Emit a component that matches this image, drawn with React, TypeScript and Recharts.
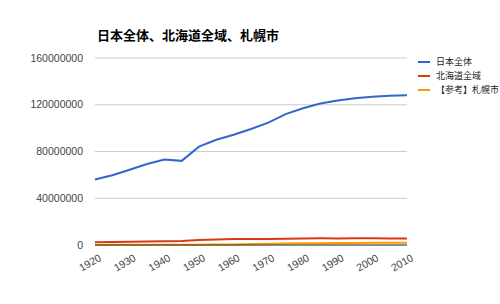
import { ReactElement } from 'react'
import { LineChart, Line, XAxis, YAxis, CartesianGrid } from 'recharts'

const years = ['1920', '1925', '1930', '1935', '1940', '1945', '1950', '1955', '1960', '1965', '1970', '1975', '1980', '1985', '1990', '1995', '2000', '2005', '2010']
const japan = [55963053, 59736822, 64450005, 69254148, 73114308, 71998104, 84114574, 90076594, 94301623, 99209137, 104665171, 111939643, 117060396, 121048923, 123611167, 125570246, 126925843, 127767994, 128057352]
const hokkaido = [2359183, 2498679, 2812335, 3068282, 3272718, 3518389, 4295567, 4773087, 5039206, 5171800, 5184287, 5338206, 5575989, 5679439, 5643647, 5692321, 5683062, 5627737, 5506419]
const sapporo = [102580, 145065, 168576, 196541, 206103, 220189, 313850, 426620, 523839, 794908, 1010123, 1240613, 1401757, 1542979, 1671742, 1757025, 1822368, 1880863, 1913545]
const yTicks = [0, 40000000, 80000000, 120000000, 160000000]

const seriesNames = ['日本全体', '北海道全域', '【参考】札幌市']
const seriesColors = ['#3366cc', '#dc3912', '#ff9900']

const data = years.map((y, i) => ({ year: y, japan: japan[i], hokkaido: hokkaido[i], sapporo: sapporo[i] }))

const font = 'Arial, "Liberation Sans", "Noto Sans CJK JP", sans-serif'
const colorLabelAxis = '#444'

const XTick = ({ x, y, payload }: any): ReactElement => (
   <text
      x={ x + 7 }
      y={ y + 13 }
      transform={ `rotate(-30, ${ x + 7 }, ${ y + 13 })` }
      textAnchor='end'
      fontSize={ 10.5 }
      fill={ colorLabelAxis }
      fontFamily={ font }
   >
      { payload.value }
   </text>
)

export default function App(): ReactElement {
   return (
      <div style={{ position: 'absolute', left: 0, top: 0, width: 500, height: 304, background: '#fff', fontFamily: font }}>
         <div style={{ position: 'absolute', left: 97, top: 26, fontSize: 13, fontWeight: 'bold', color: '#000', fontFamily: '"Noto Sans CJK JP", sans-serif', lineHeight: '18px' }}>
            日本全体、北海道全域、札幌市
         </div>

         <LineChart
            width={ 500 }
            height={ 304 }
            data={ data }
            margin={{ top: 58, right: 93, bottom: 0, left: 0 }}
         >
            <CartesianGrid vertical={ false } stroke='#cccccc' />

            <XAxis
               dataKey='year'
               interval={ 1 }
               tick={ <XTick /> }
               tickLine={ false }
               tickSize={ 0 }
               axisLine={{ stroke: '#333' }}
               height={ 59 }
            />

            <YAxis
               domain={ [0, 160000000] }
               ticks={ yTicks }
               width={ 95 }
               tickLine={ false }
               tickSize={ 0 }
               axisLine={ false }
               tickMargin={ 12 }
               tick={{ fontSize: 10.5, fill: colorLabelAxis, fontFamily: font }}
            />

            <Line type='linear' dataKey='japan' stroke={ seriesColors[0] } strokeWidth={ 2 } dot={ false } isAnimationActive={ false } />
            <Line type='linear' dataKey='hokkaido' stroke={ seriesColors[1] } strokeWidth={ 2 } dot={ false } isAnimationActive={ false } />
            <Line type='linear' dataKey='sapporo' stroke={ seriesColors[2] } strokeWidth={ 2 } dot={ false } isAnimationActive={ false } />
         </LineChart>

         { seriesNames.map((name, i) => (
            <div key={ name } style={{ position: 'absolute', left: 418, top: 55 + i * 14, height: 13, display: 'flex', alignItems: 'center' }}>
               <div style={{ width: 12, height: 2, background: seriesColors[i], marginRight: 6 }} />
               <span style={{ fontSize: 9, color: '#222', fontFamily: '"Noto Sans CJK JP", sans-serif', whiteSpace: 'nowrap' }}>{ name }</span>
            </div>
         )) }
      </div>
   )
}
